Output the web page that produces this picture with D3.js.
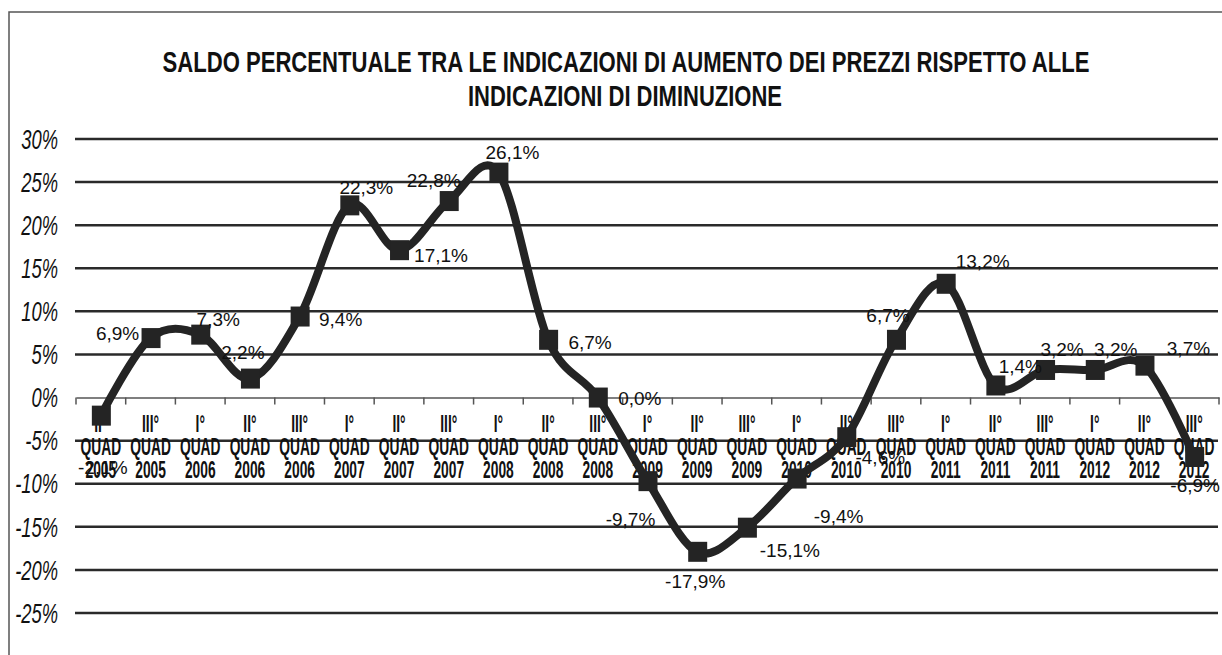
<!DOCTYPE html>
<html lang="it">
<head>
    <meta charset="UTF-8">
    <title>Saldo percentuale prezzi</title>
    <script src="https://d3js.org/d3.v7.min.js"></script>
    <style>
        body { margin: 0; background: #fff; }
        svg { display: block; font-family: "Liberation Sans", Arial, sans-serif; }
    </style>
</head>
<body>
    <div id="chart"></div>
    <script>
        // chart data
        const quarters = ["II°", "III°", "I°", "II°", "III°", "I°", "II°", "III°", "I°", "II°", "III°", "I°",
                          "II°", "III°", "I°", "II°", "III°", "I°", "II°", "III°", "I°", "II°", "III°"];
        const years = ["2005", "2005", "2006", "2006", "2006", "2007", "2007", "2007", "2008", "2008", "2008", "2009",
                       "2009", "2009", "2010", "2010", "2010", "2011", "2011", "2011", "2012", "2012", "2012"];
        const saldo = [-2.1, 6.9, 7.3, 2.2, 9.4, 22.3, 17.1, 22.8, 26.1, 6.7, 0.0, -9.7,
                       -17.9, -15.1, -9.4, -4.6, 6.7, 13.2, 1.4, 3.2, 3.2, 3.7, -6.9];
        const yTicks = [30, 25, 20, 15, 10, 5, 0, -5, -10, -15, -20, -25];
        const titleLines = ["SALDO PERCENTUALE TRA LE INDICAZIONI DI AUMENTO DEI PREZZI RISPETTO ALLE",
                            "INDICAZIONI DI DIMINUZIONE"];

        // label nudges (dx, dy) relative to each marker
        const labelOffset = [[2, 52], [-33, -5], [18, -15], [-7, -26], [41, 3], [17, -18], [42, 5], [-15, -21],
                             [14, -20], [42, 3], [42, 1], [-17, 38], [-2, 30], [43, 23], [42, 38], [34, 20],
                             [-8, -24], [37, -22], [25, -19], [17, -21], [21, -21], [44, -17], [1, 28]];

        const width = 1222;
        const height = 655;
        const left = 76, right = 1219;

        const svg = d3.select("#chart").append("svg")
            .attr("width", width)
            .attr("height", height);

        svg.append("rect")
            .attr("x", 9).attr("y", 12)
            .attr("width", width + 20).attr("height", height + 20)
            .attr("fill", "#fff")
            .attr("stroke", "#555")
            .attr("stroke-width", 1.5);

        const keys = saldo.map((d, i) => i);
        const x = d3.scaleBand().domain(keys).range([left, right]);
        const y = d3.scaleLinear().domain([-25, 30]).range([613, 139]);

        // title
        const tl = [[626, 72, 927], [625, 106, 314]];
        svg.selectAll("text.title")
            .data(titleLines)
            .enter().append("text")
            .attr("class", "title")
            .attr("x", (d, i) => tl[i][0])
            .attr("y", (d, i) => tl[i][1])
            .attr("text-anchor", "middle")
            .attr("textLength", (d, i) => tl[i][2])
            .attr("lengthAdjust", "spacingAndGlyphs")
            .style("font-size", "30px")
            .style("font-weight", "bold")
            .style("fill", "#111")
            .text(d => d);

        // gridlines
        svg.append("g")
            .selectAll("line")
            .data(yTicks.filter(d => d !== 0))
            .enter().append("line")
            .attr("x1", 75).attr("x2", 1218)
            .attr("y1", d => y(d)).attr("y2", d => y(d))
            .attr("stroke", "#2a2a2a")
            .attr("stroke-width", 2.5);

        // zero axis with ticks
        const xAxis = d3.axisBottom(x).tickSize(0).tickFormat("");
        const ax = svg.append("g").attr("transform", `translate(0,${y(0)})`).call(xAxis);
        ax.select(".domain").attr("stroke", "#555").attr("stroke-width", 1.5);
        svg.append("g")
            .selectAll("line")
            .data(d3.range(saldo.length + 1))
            .enter().append("line")
            .attr("x1", d => left + d * x.step()).attr("x2", d => left + d * x.step())
            .attr("y1", y(0)).attr("y2", y(0) + 7)
            .attr("stroke", "#555")
            .attr("stroke-width", 1.5);

        // y labels
        svg.append("g")
            .selectAll("text")
            .data(yTicks)
            .enter().append("text")
            .attr("transform", d => `translate(58,${y(d)}) scale(0.68,1)`)
            .attr("dy", "0.36em")
            .attr("text-anchor", "end")
            .style("font-size", "27px")
            .style("font-style", "italic")
            .style("fill", "#111")
            .text(d => d + "%");

        // category labels
        const cat = svg.append("g")
            .selectAll("g")
            .data(keys)
            .enter().append("g")
            .attr("transform", d => `translate(${x(d) + x.bandwidth() / 2},0)`);
        [[d => quarters[d], 432], [d => "QUAD", 455], [d => years[d], 478]]
            .forEach(([f, yy]) => {
                cat.append("text")
                    .attr("transform", `translate(0,${yy}) scale(0.6,1)`)
                    .attr("text-anchor", "middle")
                    .style("font-size", "23px")
                    .style("font-weight", "bold")
                    .style("fill", "#111")
                    .text(f);
            });

        // line
        const line = d3.line()
            .x((d, i) => x(i) + x.bandwidth() / 2)
            .y(d => y(d))
            .curve(d3.curveCardinal.tension(0));

        svg.append("path")
            .datum(saldo)
            .attr("d", line)
            .attr("fill", "none")
            .attr("stroke", "#242424")
            .attr("stroke-width", 8)
            .attr("stroke-linejoin", "round");

        // markers
        svg.append("g")
            .selectAll("rect")
            .data(saldo)
            .enter().append("rect")
            .attr("x", (d, i) => x(i) + x.bandwidth() / 2 - 9)
            .attr("y", d => y(d) - 10)
            .attr("width", 19)
            .attr("height", 20)
            .attr("fill", "#242424");

        // data labels
        svg.append("g")
            .selectAll("text")
            .data(saldo)
            .enter().append("text")
            .attr("x", (d, i) => x(i) + x.bandwidth() / 2 + labelOffset[i][0])
            .attr("y", (d, i) => y(d) + labelOffset[i][1])
            .attr("dy", "0.35em")
            .attr("text-anchor", "middle")
            .style("font-size", "19px")
            .style("fill", "#111")
            .text(d => d3.format(".1f")(d).replace(".", ",").replace("−", "-") + "%");
    </script>
</body>
</html>
